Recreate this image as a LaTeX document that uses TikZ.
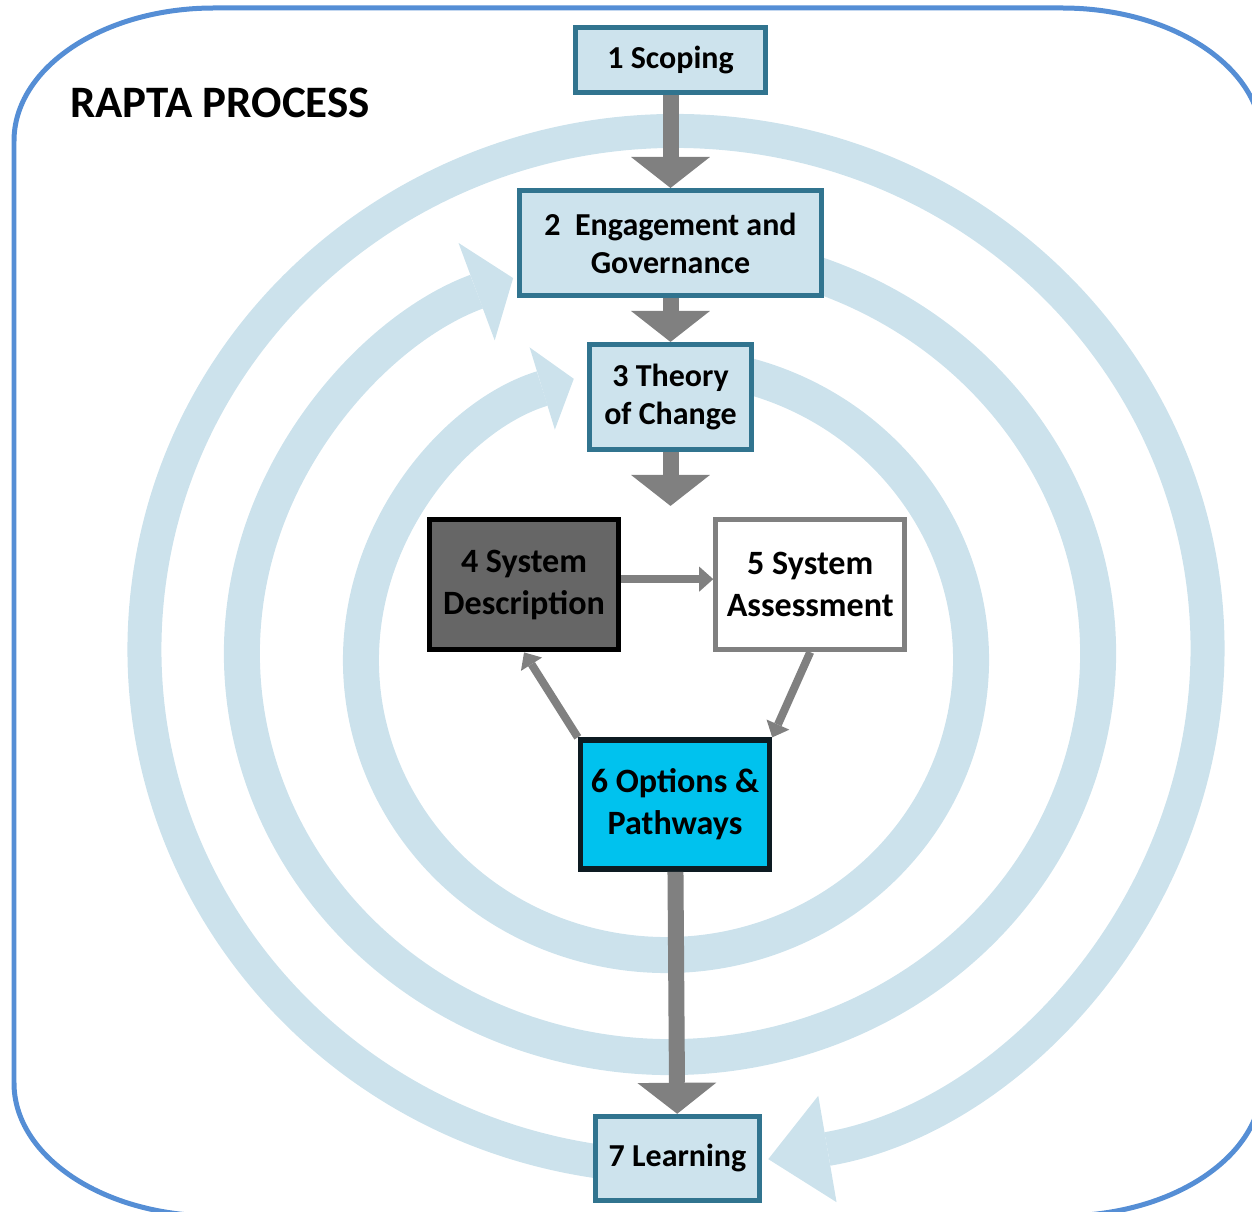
\documentclass[tikz,border=0pt]{standalone}
\usepackage{fontspec}
\setmainfont{Carlito}
\usepackage{tikz}
\usetikzlibrary{arrows.meta,positioning}
\definecolor{ringblue}{HTML}{CCE2EC}
\definecolor{boxfill}{HTML}{CDE3ED}
\definecolor{boxline}{HTML}{31748F}
\definecolor{framecol}{HTML}{558ED5}
\definecolor{flowgray}{HTML}{808080}
\definecolor{darkbox}{HTML}{666666}
\definecolor{optfill}{HTML}{00C2EE}
\definecolor{optline}{HTML}{0D1B22}

\begin{document}
\begin{tikzpicture}[x=0.02cm,y=0.02cm,
	stage/.style={draw=boxline,fill=boxfill,line width=0.1cm,outer sep=0.05cm,rectangle,inner sep=0pt,align=center,font=\bfseries\fontsize{18.2}{21.6}\selectfont},
	lowstage/.style={line width=0.11cm,outer sep=0.055cm,rectangle,inner sep=0pt,align=center,minimum width=3.78cm,minimum height=2.6cm,font=\bfseries\fontsize{19.4}{24}\selectfont},
	ring/.style={ringblue,line width=0.72cm},
	bigflow/.style={flowgray,line width=0.32cm,-{Triangle[length=0.62cm,width=1.58cm,line width=0pt]}},
	smallflow/.style={flowgray,line width=0.16cm,-{Triangle[length=0.28cm,width=0.5cm,line width=0pt]}}]
	\useasboundingbox (0,0) rectangle (1252,-1212);
	\clip (0,0) rectangle (1252,-1212);

	% outer frame
	\draw[framecol,line width=0.1cm] (14,-141) .. controls (14,-67.5) and (103.5,-8) .. (214,-8) -- (1062,-8) .. controls (1172.5,-8) and (1262,-67.5) .. (1262,-141) -- (1262,-1083) .. controls (1262,-1156.5) and (1172.5,-1216) .. (1062,-1216) -- (214,-1216) .. controls (103.5,-1216) and (14,-1156.5) .. (14,-1083) -- cycle;

	% loops
	\draw[ring,line width=0.68cm,-{Triangle[length=1.2cm,width=2.16cm,line width=0pt]}] (676,-649) ++(-97:531.5 and 518) arc[start angle=-97,end angle=-440,x radius=531.5,y radius=518];
	\draw[ring,-{Triangle[length=0.78cm,width=2.08cm,line width=0pt]}] (670,-653.5) ++(72:428 and 403.5) arc[start angle=72,end angle=-248.5,x radius=428,y radius=403.5];
	\draw[ring,-{Triangle[length=0.66cm,width=1.72cm,line width=0pt]}] (666,-660) ++(78:305 and 295) arc[start angle=78,end angle=-252.4,x radius=305,y radius=295];

	\node[font=\bfseries\fontsize{25.6}{30}\selectfont,anchor=base west,inner sep=0pt]	(title)	at (70,-118)	{RAPTA PROCESS};

	\node[stage,minimum width=3.8cm,minimum height=1.3cm]		(scoping)	at (670.5,-60)				{1 Scoping};
	\node[stage,minimum width=6.04cm,minimum height=2.1cm]		(engage)	[below=1.86cm of scoping]	{2~~Engagement and\\Governance};
	\node[stage,minimum width=3.26cm,minimum height=2.1cm]		(theory)	[below=0.88cm of engage]	{3 Theory\\of Change};
	\coordinate	(fork)	at ([yshift=-1.08cm]theory.south);
	\node[lowstage,draw=black,fill=darkbox]						(sysdesc)	[below=1.3cm of theory,xshift=-2.93cm]	{4 System\\Description};
	\node[lowstage,draw=flowgray,fill=white,line width=0.1cm,outer sep=0.05cm]	(sysassess)	[right=1.84cm of sysdesc]	{5 System\\Assessment};
	\node[lowstage,draw=optline,fill=optfill,minimum height=2.58cm]	(options)	[below=1.7cm of sysdesc,xshift=3.02cm]	{6 Options \&\\Pathways};
	\node[stage,minimum width=3.28cm,minimum height=1.68cm]		(learning)	[below=4.84cm of options,xshift=0.05cm]	{7 Learning};

	\path[bigflow]
		(scoping)	edge	(engage)
		(engage)	edge	(theory)
		(theory)	edge	(fork)
		(options)	edge	(learning)
	;
	\path[smallflow]
		([yshift=0.11cm]sysdesc.east)	edge	([yshift=0.11cm]sysassess.west)
		(sysassess.south)	edge	(options.north east)
		(options.north west)	edge	(sysdesc.south)
	;
\end{tikzpicture}
\end{document}
